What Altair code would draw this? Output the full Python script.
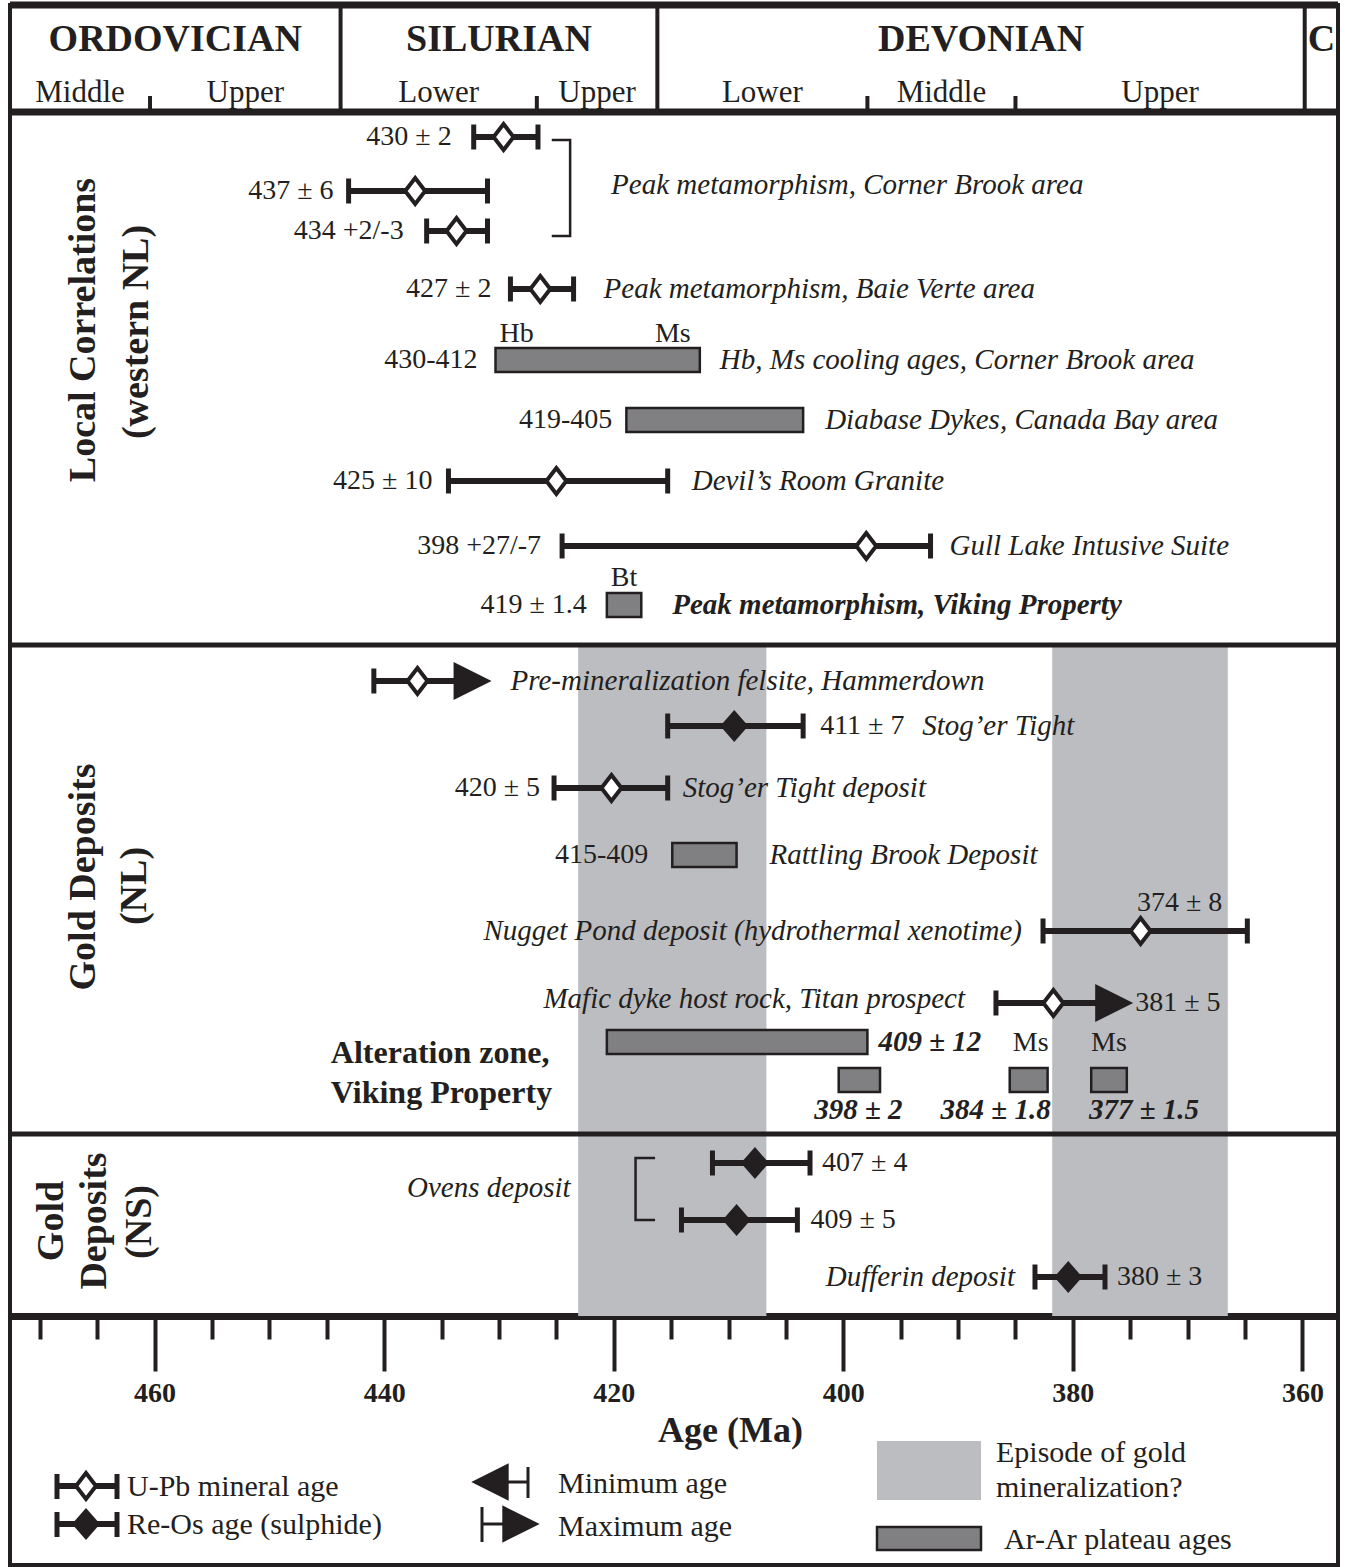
import altair as alt
import pandas as pd

FONT = "Liberation Serif"
INK = "#231f20"
BAND = "#bcbdc0"
ARAR = "#808083"

# ---------------- geologic time scale (Ma) ----------------
period_names = ["ORDOVICIAN", "SILURIAN", "DEVONIAN", "C"]
period_bounds = [472.6, 443.8, 416.2, 359.8, 356.9]
epoch_names = ["Middle", "Upper", "Lower", "Upper", "Lower", "Middle", "Upper"]
epoch_bounds = [472.6, 460.4, 443.8, 426.7, 416.2, 397.9, 385.0, 359.8]
epoch_ticks = [460.4, 426.7, 397.9, 385.0]
axis_ticks = list(range(470, 355, -5))

# ---------------- episodes of gold mineralization (Ma) ----------------
band_old = [423.1, 381.8]
band_young = [406.7, 366.5]

# ---------------- U-Pb / Re-Os ages (Ma) ----------------
pt_method = ["U-Pb"] * 7 + ["Re-Os", "U-Pb", "U-Pb", "U-Pb", "Re-Os", "Re-Os", "Re-Os"]
pt_age = [429.6, 437.3, 433.7, 426.4, 425.0, 398.0, 437.1, 409.5, 420.2, 374.1, 381.7, 407.7, 409.3, 380.4]
pt_old = [432.2, 443.1, 436.3, 429.0, 434.4, 424.5, 440.9, 415.3, 425.2, 382.6, 386.7, 411.4, 414.1, 383.3]
pt_young = [426.6, 431.0, 431.0, 423.5, 415.3, 392.4, 432.3, 403.5, 415.3, 364.8, 376.4, 402.9, 404.0, 377.2]
pt_maxage = [False] * 6 + [True, False, False, False, True, False, False, False]

# ---------------- Ar-Ar plateau ages (Ma) ----------------
ar_old = [430.3, 418.9, 420.6, 414.9, 420.6, 400.4, 385.5, 378.4]
ar_young = [412.5, 403.5, 417.6, 409.3, 397.9, 396.8, 382.2, 375.3]

# ---------------- brackets (Ma) ----------------
br_spine = [423.8, 418.1]
br_tip = [425.4, 416.4]

# ---------------- layout (rows, px) ----------------
X_OLD, X_YOUNG = 472.6, 356.9
W, H = 1328, 1560
LEFT, TOP = 10, 5
PX = W / (X_OLD - X_YOUNG)
AXIS_ROW = 1316
pt_row = [137, 191, 231, 289, 481, 546, 681, 726, 788, 931, 1003, 1163, 1220, 1277]
ar_row = [360, 420, 605, 855, 1042, 1080, 1080, 1080]
br_top = [140, 1158]
br_bottom = [236, 1220]
sep_rows = [5, 112, 645, 1134]
sep_width = [7, 7, 5, 5]

xscale = alt.Scale(domain=[X_YOUNG, X_OLD], reverse=True, zero=False, nice=False)
yscale = alt.Scale(domain=[TOP, TOP + H], reverse=True, zero=False, nice=False)
xaxis = alt.Axis(
    values=axis_ticks, orient="bottom", offset=-(TOP + H - AXIS_ROW), grid=False,
    domainColor=INK, domainWidth=7, tickColor=INK, tickWidth=4,
    tickSize={"condition": {"test": "datum.value % 20 === 0", "value": 55}, "value": 23},
    labelExpr="datum.value % 20 === 0 ? datum.label : ''",
    labelFont=FONT, labelFontSize=28, labelFontWeight="bold", labelColor=INK,
    labelPadding=8, labelOverlap=False, labelFlush=False,
    title="Age (Ma)", titleFont=FONT, titleFontSize=36, titleFontWeight="bold",
    titleColor=INK, titleX=720, titleY=114, titleAlign="center", titleBaseline="middle",
    titleAngle=0,
)


def X(field):
    return alt.X(field, type="quantitative", scale=xscale, axis=xaxis)


def Y(field):
    return alt.Y(field, type="quantitative", scale=yscale, axis=None)


layers = []

# mineralization bands
bands = pd.DataFrame({"old": band_old, "young": band_young, "top": [645] * 2, "bot": [AXIS_ROW] * 2})
layers.append(alt.Chart(bands).mark_rect(color=BAND).encode(
    x=X("old"), x2=alt.X2("young"), y=Y("top"), y2=alt.Y2("bot")))

# panel separators
seps = pd.DataFrame({"row": sep_rows, "w": sep_width})
layers.append(alt.Chart(seps).mark_rule(color=INK).encode(
    x=alt.value(0), x2=alt.value(W), y=Y("row"), size=alt.Size("w:Q", scale=None)))

# header: period boundaries, epoch ticks, labels
pb = pd.DataFrame({"b": period_bounds[1:4], "top": 5, "bot": 112})
layers.append(alt.Chart(pb).mark_rule(color=INK, strokeWidth=4).encode(
    x=X("b"), y=Y("top"), y2=alt.Y2("bot")))
et = pd.DataFrame({"b": epoch_ticks, "top": 96, "bot": 109})
layers.append(alt.Chart(et).mark_rule(color=INK, strokeWidth=4).encode(
    x=X("b"), y=Y("top"), y2=alt.Y2("bot")))
pl = pd.DataFrame({"t": period_names,
                   "mid": [(period_bounds[i] + period_bounds[i + 1]) / 2 for i in range(4)],
                   "row": 40})
layers.append(alt.Chart(pl).mark_text(font=FONT, fontSize=38, fontWeight="bold", color=INK,
                                      baseline="middle").encode(x=X("mid"), y=Y("row"), text="t:N"))
el = pd.DataFrame({"t": epoch_names,
                   "mid": [(epoch_bounds[i] + epoch_bounds[i + 1]) / 2 for i in range(7)],
                   "row": 93})
layers.append(alt.Chart(el).mark_text(font=FONT, fontSize=31, color=INK,
                                      baseline="middle").encode(x=X("mid"), y=Y("row"), text="t:N"))

# error bars
pts = pd.DataFrame(dict(age=pt_age, old=pt_old, young=pt_young, row=pt_row,
                        method=pt_method, maxage=pt_maxage))
layers.append(alt.Chart(pts).mark_rule(color=INK, strokeWidth=6).encode(
    x=X("old"), x2=alt.X2("young"), y=Y("row")))
caps_df = pd.concat([
    pts[["old", "row"]].rename(columns={"old": "cap"}),
    pts.loc[~pts.maxage, ["young", "row"]].rename(columns={"young": "cap"}),
])
layers.append(alt.Chart(caps_df).mark_point(shape="M0,-1L0,1", size=625, filled=False,
                                            color=INK, strokeWidth=5, opacity=1).encode(
    x=X("cap"), y=Y("row")))
layers.append(alt.Chart(pts[pts.maxage]).mark_point(shape="M-1,-1L1,0L-1,1Z", size=1444, filled=True,
                                                    color=INK, opacity=1).encode(
    x=X("young"), y=Y("row")))
OPEN_D = "M0,-1.3L1,0L0,1.3L-1,0Z"
FILL_D = "M0,-1.14L1,0L0,1.14L-1,0Z"
layers.append(alt.Chart(pts[pts.method == "U-Pb"]).mark_point(
    shape=OPEN_D, size=400, filled=True, fill="white", stroke=INK, strokeWidth=4, opacity=1,
    fillOpacity=1).encode(x=X("age"), y=Y("row")))
layers.append(alt.Chart(pts[pts.method == "Re-Os"]).mark_point(
    shape=FILL_D, size=784, filled=True, color=INK, opacity=1).encode(x=X("age"), y=Y("row")))

# Ar-Ar rectangles
ar = pd.DataFrame({"old": ar_old, "young": ar_young, "row": ar_row})
layers.append(alt.Chart(ar).transform_calculate(top="datum.row - 12", bot="datum.row + 12").mark_rect(
    fill=ARAR, stroke=INK, strokeWidth=2.5).encode(
    x=X("old"), x2=alt.X2("young"), y=Y("top:Q"), y2=alt.Y2("bot:Q")))

# brackets
br_rows = []
for g in range(2):
    br_rows += [
        {"g": g, "s": 0, "x": br_tip[g], "row": br_top[g]},
        {"g": g, "s": 1, "x": br_spine[g], "row": br_top[g]},
        {"g": g, "s": 2, "x": br_spine[g], "row": br_bottom[g]},
        {"g": g, "s": 3, "x": br_tip[g], "row": br_bottom[g]},
    ]
layers.append(alt.Chart(pd.DataFrame(br_rows)).mark_line(color=INK, strokeWidth=2.5).encode(
    x=X("x"), y=Y("row"), detail="g:N", order="s:Q"))


# labels: (text, anchor age, shift px, row)
def label_layer(rows, align, size=28, style="normal", weight="normal"):
    df = pd.DataFrame(rows, columns=["text", "anchor", "shift", "row"])
    return alt.Chart(df).transform_calculate(pos=f"datum.anchor - datum.shift / {PX}").mark_text(
        align=align, baseline="middle", font=FONT, fontSize=size, fontStyle=style,
        fontWeight=weight, color=INK).encode(x=X("pos:Q"), y=Y("row"), text="text:N")


mid = lambda i: (ar_old[i] + ar_young[i]) / 2
layers.append(label_layer([
    ("430 ± 2", pt_old[0], -22, pt_row[0]),
    ("437 ± 6", pt_old[1], -15, pt_row[1]),
    ("434 +2/-3", pt_old[2], -23, pt_row[2]),
    ("427 ± 2", pt_old[3], -19, pt_row[3]),
    ("430-412", ar_old[0], -18, ar_row[0]),
    ("419-405", ar_old[1], -14, ar_row[1]),
    ("425 ± 10", pt_old[4], -16, pt_row[4]),
    ("398 +27/-7", pt_old[5], -21, pt_row[5]),
    ("419 ± 1.4", ar_old[2], -20, ar_row[2]),
    ("420 ± 5", pt_old[8], -14, pt_row[8]),
    ("415-409", ar_old[3], -24, ar_row[3]),
], "right"))
layers.append(label_layer([
    ("411 ± 7", pt_young[7], 17, pt_row[7]),
    ("381 ± 5", pt_young[10], 21, pt_row[10]),
    ("407 ± 4", pt_young[11], 12, pt_row[11]),
    ("409 ± 5", pt_young[12], 13, pt_row[12]),
    ("380 ± 3", pt_young[13], 12, pt_row[13]),
], "left"))
layers.append(label_layer([
    ("374 ± 8", pt_age[9], 39, 903),
    ("Hb", ar_old[0], 21, 334),
    ("Ms", ar_young[0], -27, 334),
    ("Bt", mid(2), 0, 578),
    ("Ms", mid(6), 2, 1043),
    ("Ms", mid(7), 0, 1043),
], "center"))
layers.append(label_layer([
    ("Peak metamorphism, Corner Brook area", br_spine[0], 41, 185),
    ("Peak metamorphism, Baie Verte area", pt_young[3], 30, pt_row[3]),
    ("Hb, Ms cooling ages, Corner Brook area", ar_young[0], 20, ar_row[0]),
    ("Diabase Dykes, Canada Bay area", ar_young[1], 22, ar_row[1]),
    ("Devil’s Room Granite", pt_young[4], 24, pt_row[4]),
    ("Gull Lake Intusive Suite", pt_young[5], 19, pt_row[5]),
    ("Pre-mineralization felsite, Hammerdown", pt_young[6], 38, pt_row[6]),
    ("Stog’er Tight", pt_young[7], 119, pt_row[7]),
    ("Stog’er Tight deposit", pt_young[8], 15, pt_row[8]),
    ("Rattling Brook Deposit", ar_young[3], 33, ar_row[3]),
], "left", size=29, style="italic"))
layers.append(label_layer([
    ("Nugget Pond deposit (hydrothermal xenotime)", pt_old[9], -21, pt_row[9]),
    ("Mafic dyke host rock, Titan prospect", pt_old[10], -31, 999),
    ("Ovens deposit", br_spine[1], -65, 1188),
    ("Dufferin deposit", pt_old[13], -20, pt_row[13]),
], "right", size=29, style="italic"))
layers.append(label_layer([
    ("Peak metamorphism, Viking Property", ar_young[2], 31, ar_row[2]),
    ("409 ± 12", ar_young[4], 11, ar_row[4]),
], "left", size=29, style="italic", weight="bold"))
layers.append(label_layer([
    ("398 ± 2", mid(5), -1, 1110),
    ("384 ± 1.8", mid(6), -33, 1110),
    ("377 ± 1.5", mid(7), 35, 1110),
], "center", size=29, style="italic", weight="bold"))
layers.append(label_layer([
    ("Alteration zone,", ar_old[4], -276, 1053),
    ("Viking Property", ar_old[4], -276, 1093),
], "left", size=32, weight="bold"))

# ---------------- panel titles & legend (page pixels) ----------------
def PXV(v):
    return alt.X(v, type="quantitative", scale=None)


def PYV(v):
    return alt.Y(v, type="quantitative", scale=None)


titles = pd.DataFrame([
    ("Local Correlations", 84, 330), ("(western NL)", 137, 332),
    ("Gold Deposits", 84, 877), ("(NL)", 135, 886),
    ("Gold", 52, 1221), ("Deposits", 95, 1221), ("(NS)", 140, 1222),
], columns=["t", "x", "y"])
titles["x"] -= LEFT
titles["y"] -= TOP
layers.append(alt.Chart(titles).mark_text(font=FONT, fontSize=38, fontWeight="bold", angle=270,
                                          align="center", baseline="middle", color=INK).encode(
    x=PXV("x"), y=PYV("y"), text="t:N"))

leg_lines = pd.DataFrame([(57, 117, 1486, 6), (57, 117, 1524, 6), (490, 528, 1482, 3), (482, 520, 1524, 3)],
                         columns=["x1", "x2", "y", "w"])
leg_lines[["x1", "x2"]] -= LEFT
leg_lines["y"] -= TOP
layers.append(alt.Chart(leg_lines).mark_rule(color=INK).encode(
    x=PXV("x1"), x2=alt.X2("x2"), y=PYV("y"), size=alt.Size("w:Q", scale=None)))
leg_caps = pd.DataFrame([(57, 1474, 1499, 5), (117, 1474, 1499, 5), (57, 1512, 1537, 5),
                         (117, 1512, 1537, 5), (528, 1467, 1498, 3), (482, 1507, 1542, 3)],
                        columns=["x", "y1", "y2", "w"])
leg_caps["x"] -= LEFT
leg_caps[["y1", "y2"]] -= TOP
layers.append(alt.Chart(leg_caps).mark_rule(color=INK).encode(
    x=PXV("x"), y=PYV("y1"), y2=alt.Y2("y2"), size=alt.Size("w:Q", scale=None)))
layers.append(alt.Chart(pd.DataFrame({"x": [86 - LEFT], "y": [1486 - TOP]})).mark_point(
    shape=OPEN_D, size=400, filled=True, fill="white", stroke=INK, strokeWidth=4, opacity=1).encode(
    x=PXV("x"), y=PYV("y")))
layers.append(alt.Chart(pd.DataFrame({"x": [86 - LEFT], "y": [1524 - TOP]})).mark_point(
    shape=FILL_D, size=784, filled=True, color=INK, opacity=1).encode(x=PXV("x"), y=PYV("y")))
layers.append(alt.Chart(pd.DataFrame({"x": [490 - LEFT], "y": [1482 - TOP]})).mark_point(
    shape="M1,-1L-1,0L1,1Z", size=1400, filled=True, color=INK, opacity=1).encode(x=PXV("x"), y=PYV("y")))
layers.append(alt.Chart(pd.DataFrame({"x": [521 - LEFT], "y": [1524 - TOP]})).mark_point(
    shape="M-1,-1L1,0L-1,1Z", size=1400, filled=True, color=INK, opacity=1).encode(x=PXV("x"), y=PYV("y")))
leg_rects = pd.DataFrame([(877, 981, 1441, 1500)], columns=["x1", "x2", "y1", "y2"])
leg_rects[["x1", "x2"]] -= LEFT
leg_rects[["y1", "y2"]] -= TOP
layers.append(alt.Chart(leg_rects).mark_rect(fill=BAND).encode(
    x=PXV("x1"), x2=alt.X2("x2"), y=PYV("y1"), y2=alt.Y2("y2")))
leg_rects2 = pd.DataFrame([(877, 981, 1527, 1550)], columns=["x1", "x2", "y1", "y2"])
leg_rects2[["x1", "x2"]] -= LEFT
leg_rects2[["y1", "y2"]] -= TOP
layers.append(alt.Chart(leg_rects2).mark_rect(fill=ARAR, stroke=INK, strokeWidth=2.5).encode(
    x=PXV("x1"), x2=alt.X2("x2"), y=PYV("y1"), y2=alt.Y2("y2")))
leg_text = pd.DataFrame([
    ("U-Pb mineral age", 127, 1487), ("Re-Os age (sulphide)", 127, 1525),
    ("Minimum age", 558, 1484), ("Maximum age", 558, 1527),
    ("Episode of gold", 996, 1453), ("mineralization?", 996, 1488),
    ("Ar-Ar plateau ages", 1004, 1540),
], columns=["t", "x", "y"])
leg_text["x"] -= LEFT
leg_text["y"] -= TOP
layers.append(alt.Chart(leg_text).mark_text(font=FONT, fontSize=30, align="left", baseline="middle",
                                            color=INK).encode(x=PXV("x"), y=PYV("y"), text="t:N"))

chart = alt.layer(*layers).properties(
    width=W, height=H,
    padding={"left": LEFT, "top": TOP, "right": 1346 - LEFT - W, "bottom": 1567 - TOP - H},
    autosize=alt.AutoSizeParams(type="none"),
).configure_view(stroke=INK, strokeWidth=4)

chart.save("out.html", embed_options={"renderer": "svg", "actions": False})
